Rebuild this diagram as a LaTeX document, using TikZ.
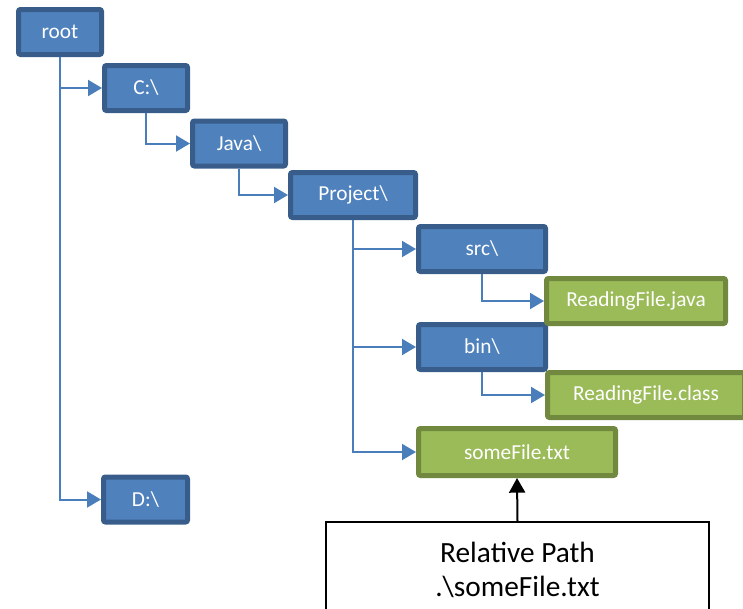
\documentclass[tikz,border=0pt]{standalone}
\usepackage{fontspec}
\setmainfont{Carlito}
\usepackage{tikz}
\usepackage{xcolor}
\usetikzlibrary{arrows.meta}
\definecolor{dirblue}{HTML}{4F81BD}
\definecolor{dirborder}{HTML}{385D8A}
\definecolor{filegreen}{HTML}{9BBB59}
\definecolor{fileborder}{HTML}{71893F}
\definecolor{linkblue}{HTML}{4A7EBB}

\begin{document}
\begin{tikzpicture}[x=0.75pt,y=-0.75pt,
                    dir node/.style={rectangle,rounded corners=1.5pt,draw=dirborder,fill=dirblue,
                      line width=3.75pt,text=white,font=\fontsize{16}{19}\selectfont,
                      minimum height=33.75pt,inner sep=0pt},
                    file node/.style={dir node,draw=fileborder,fill=filegreen},
                    note node/.style={rectangle,draw=black,line width=1.5pt,align=center,
                      font=\fontsize{22}{26}\selectfont,inner sep=0pt},
                    link/.style={color=linkblue,line width=1.5pt,-{Triangle[length=10.5pt,width=12pt]}}]

  \useasboundingbox (0,0) rectangle (743,608);

  % folders
  \node[dir node,minimum width=62.25pt] (root) at (60,32) {root};
  \node[dir node,minimum width=62.25pt] (cdrive) at (146,88) {C:\textbackslash};
  \node[dir node,minimum width=69.75pt] (java) at (239,143.5) {Java\textbackslash};
  \node[dir node,minimum width=93.75pt] (project) at (353,195) {Project\textbackslash};
  \node[dir node,minimum width=95.25pt] (src) at (482,249) {src\textbackslash};
  \node[dir node,minimum width=95.25pt] (bin) at (482,347) {bin\textbackslash};
  \node[dir node,minimum width=63pt] (ddrive) at (145.5,499.5) {D:\textbackslash};

  % files
  \node[file node,minimum width=134.25pt] (javafile) at (636,301) {ReadingFile.java};
  \node[file node,minimum width=147.75pt] (classfile) at (646,395) {ReadingFile.class};
  \node[file node,minimum width=147.75pt,minimum height=35.25pt] (somefile) at (517,452) {someFile.txt};

  \node[note node,anchor=north,minimum width=287.25pt,minimum height=72pt] (relpath) at (517.5,521)
    {Relative Path\\.\textbackslash someFile.txt};

  % tree links
  \draw[link] (root.south) |- (cdrive.west);
  \draw[link] (root.south) |- (ddrive.west);
  \draw[link] (cdrive.south) |- (java.west);
  \draw[link] (java.south) |- (project.west);
  \draw[link] (project.south) |- (src.west);
  \draw[link] (project.south) |- (bin.west);
  \draw[link] (project.south) |- (somefile.west);
  \draw[link] (src.south) |- (javafile.west);
  \draw[link] (bin.south) |- (classfile.west);

  \draw[line width=1.5pt,-{Triangle[length=11pt,width=12pt]}] (relpath.north) -- (somefile.south);
\end{tikzpicture}
\end{document}
